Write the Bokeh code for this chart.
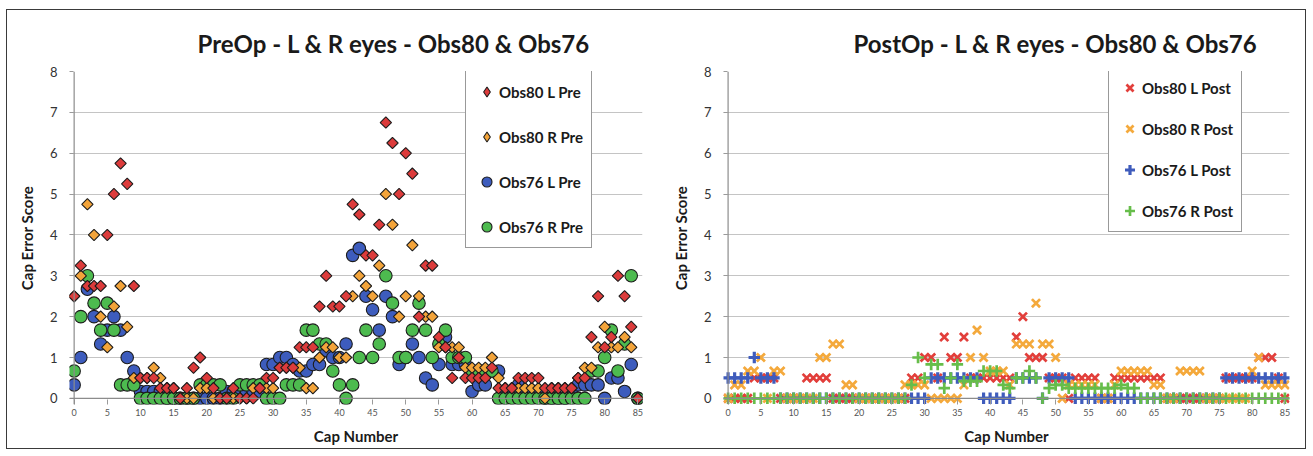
from bokeh.plotting import figure
from bokeh.layouts import row
from bokeh.models import Range1d, FixedTicker, Span, Legend, LegendItem
from bokeh.embed import file_html
from bokeh.resources import INLINE
import math

caps = list(range(86))
x_ticks = [0, 5, 10, 15, 20, 25, 30, 35, 40, 45, 50, 55, 60, 65, 70, 75, 80, 85]
y_ticks = [0, 1, 2, 3, 4, 5, 6, 7, 8]

titles = ["PreOp - L & R eyes - Obs80 & Obs76", "PostOp - L & R eyes - Obs80 & Obs76"]
x_label = "Cap Number"
y_label = "Cap Error Score"
pre_labels = ["Obs80 L Pre", "Obs80 R Pre", "Obs76 L Pre", "Obs76 R Pre"]
post_labels = ["Obs80 L Post", "Obs80 R Post", "Obs76 L Post", "Obs76 R Post"]

obs80_L_pre = [
    2.5, 3.25, 2.75, 2.75, 2.75, 4.0, 5.0, 5.75, 5.25, 2.75,
    0.5, 0.5, 0.5, 0.25, 0.25, 0.25, 0, 0.25, 0.75, 1.0,
    0.5, 0.25, 0, 0, 0.25, 0, 0, 0, 0.25, 0.5,
    0.5, 0.75, 0.75, 0.75, 1.25, 1.25, 1.25, 2.25, 3.0, 2.25,
    2.25, 2.5, 4.75, 4.5, 3.5, 3.5, 4.25, 6.75, 6.25, 5.0,
    6.0, 5.5, 2.0, 3.25, 3.25, 1.5, 1.25, 0.5, 1.0, 0.5,
    0.5, 0.5, 0.5, 0.75, 0.25, 0.25, 0.25, 0.5, 0.5, 0.5,
    0.5, 0.25, 0.25, 0.25, 0.25, 0.25, 0.5, 0.5, 1.5, 2.5,
    1.25, 1.5, 3.0, 2.5, 1.75, 0]
obs80_R_pre = [
    2.5, 3.0, 4.75, 4.0, 2.0, 1.25, 2.25, 2.75, 1.75, 0.5,
    0.5, 0.5, 0.75, 0.5, 0.25, 0.25, 0, 0, 0, 0.25,
    0.25, 0, 0, 0, 0, 0, 0, 0.25, 0.25, 0.25,
    0.25, 0.75, 0.75, 0.75, 0.75, 0.25, 0.25, 1.0, 1.25, 1.25,
    1.0, 1.0, 2.5, 3.0, 2.75, 2.5, 3.25, 5.0, 4.25, 2.0,
    2.5, 3.75, 2.5, 2.0, 2.0, 1.25, 1.25, 1.25, 1.25, 0.75,
    0.75, 0.75, 0.75, 1.0, 0.5, 0.25, 0.25, 0.25, 0.25, 0.25,
    0.25, 0, 0.25, 0.25, 0.25, 0.25, 0.5, 0.75, 0.75, 1.25,
    1.75, 1.25, 1.25, 1.5, 1.25, 0]
obs76_L_pre = [
    0.33, 1.0, 2.67, 2.0, 1.33, 1.67, 2.0, 1.67, 1.0, 0.67,
    0.17, 0.17, 0.17, 0.17, 0, 0, 0, 0, 0, 0,
    0, 0, 0, 0.17, 0.17, 0.17, 0.17, 0.17, 0.17, 0.83,
    0.83, 1.0, 1.0, 0.83, 0.67, 0.67, 0.83, 0.83, 1.17, 1.0,
    1.0, 1.33, 3.5, 3.67, 2.5, 2.17, 1.67, 2.5, 2.0, 0.83,
    1.0, 1.33, 1.0, 0.5, 0.33, 0.83, 1.5, 0.83, 0.83, 0.83,
    0.17, 0.33, 0.33, 0.67, 0.67, 0.17, 0.17, 0.33, 0.17, 0.17,
    0.17, 0, 0, 0, 0, 0.17, 0.33, 0.33, 0.33, 0.33,
    0, 0.5, 0.5, 0.17, 0.83, 0]
obs76_R_pre = [
    0.67, 2.0, 3.0, 2.33, 1.67, 2.33, 1.67, 0.33, 0.33, 0.33,
    0, 0, 0, 0, 0, 0, 0, 0, 0, 0.33,
    0.33, 0.33, 0.33, 0, 0, 0.33, 0.33, 0.33, 0.33, 0,
    0, 0, 0.33, 0.33, 0.33, 1.67, 1.67, 1.33, 1.33, 0.67,
    0.33, 0, 0.33, 1.0, 1.67, 1.0, 1.33, 3.0, 2.33, 1.0,
    1.0, 1.67, 2.33, 1.67, 1.0, 1.33, 1.67, 1.0, 1.0, 1.0,
    0.67, 0.67, 0.67, 0.67, 0, 0, 0, 0, 0, 0,
    0, 0, 0, 0, 0, 0, 0, 0, 0.67, 0.67,
    1.0, 1.67, 0.67, 1.33, 3.0, 0]

obs80_L_post = [
    0, 0, 0, 0, 0.5, 0.5, 0.5, 0.5, 0, 0,
    0, 0, 0.5, 0.5, 0.5, 0.5, 0, 0, 0, 0,
    0, 0, 0, 0, 0, 0, 0, 0, 0.5, 0.5,
    1.0, 1.0, 0.5, 1.5, 1.0, 1.0, 1.5, 0.5, 0.5, 0.5,
    0.5, 0.5, 0.5, 0.5, 1.5, 2.0, 1.0, 1.0, 1.0, 0.5,
    0.5, 0.5, 0, 0.5, 0.5, 0.5, 0.5, 0, 0, 0.5,
    0.5, 0.5, 0.5, 0.5, 0.5, 0.5, 0.5, 0, 0, 0,
    0, 0, 0, 0, 0, 0, 0.5, 0.5, 0.5, 0.5,
    0.5, 1.0, 1.0, 1.0, 0.5, 0]
obs80_R_post = [
    0, 0.33, 0.33, 0.67, 0.67, 1.0, 0, 0.67, 0.67, 0,
    0, 0, 0, 0, 1.0, 1.0, 1.33, 1.33, 0.33, 0.33,
    0, 0, 0, 0, 0, 0, 0, 0.33, 0.33, 0.33,
    0.33, 0, 0, 0, 0, 0, 0.33, 1.0, 1.67, 1.0,
    0.67, 0.67, 0.67, 0.33, 1.33, 1.33, 1.33, 2.33, 1.33, 1.33,
    1.0, 0, 0.33, 0.33, 0.33, 0.33, 0.33, 0, 0, 0.33,
    0.67, 0.67, 0.67, 0.67, 0.67, 0.33, 0.33, 0, 0, 0.67,
    0.67, 0.67, 0.67, 0, 0, 0, 0, 0, 0, 0,
    0.67, 1.0, 0.33, 0.33, 0.33, 0.33]
obs76_L_post = [
    0.5, 0.5, 0.5, 0.5, 1.0, 0.5, 0.5, 0.5, 0, 0,
    0, 0, 0, 0, 0, 0, 0, 0, 0, 0,
    0, 0, 0, 0, 0, 0, 0, 0, 0, 0,
    0, 0.5, 0.5, 0.5, 0.5, 0.5, 0.5, 0.5, 0.5, 0,
    0, 0, 0, 0, 0.5, 0.5, 0.5, 0.5, 0, 0.5,
    0.5, 0.5, 0.5, 0, 0, 0, 0, 0, 0, 0,
    0, 0, 0, 0, 0, 0, 0, 0, 0, 0,
    0, 0, 0, 0, 0, 0, 0.5, 0.5, 0.5, 0.5,
    0.5, 0.5, 0.5, 0.5, 0.5, 0.5]
obs76_R_post = [
    0, 0, 0, 0, 0, 0, 0, 0, 0, 0,
    0, 0, 0, 0, 0, 0, 0, 0, 0, 0,
    0, 0, 0, 0, 0, 0, 0, 0, 0.33, 1.0,
    0.5, 0.83, 0.83, 0.25, 0.5, 0.83, 0.42, 0.42, 0.42, 0.67,
    0.67, 0.67, 0.33, 0.25, 0.5, 0.5, 0.67, 0.5, 0, 0.25,
    0.33, 0.33, 0.25, 0.25, 0.25, 0.25, 0.25, 0.25, 0.25, 0.25,
    0.33, 0.25, 0.25, 0, 0, 0, 0, 0, 0, 0,
    0, 0, 0, 0, 0, 0, 0, 0, 0, 0,
    0, 0, 0, 0, 0, 0]

FONT = "Lato"
TXT = "#1a1a1a"
NAN = float("nan")


def base_fig(title, width, left_border, title_offset):
    p = figure(width=width, height=438,
               x_range=Range1d(-0.7, 85.7), y_range=Range1d(-0.15, 8),
               output_backend="svg", toolbar_location=None,
               min_border_left=left_border, min_border_right=16,
               min_border_top=61, min_border_bottom=44)
    p.title.text = title
    p.title.align = "left"
    p.title.offset = title_offset
    p.title.text_font = FONT
    p.title.text_font_size = "24px"
    p.title.text_font_style = "bold"
    p.title.text_color = TXT
    p.title.standoff = 28
    p.outline_line_color = None
    p.background_fill_color = "white"
    p.border_fill_color = "white"

    p.xaxis.ticker = FixedTicker(ticks=x_ticks)
    p.yaxis.ticker = FixedTicker(ticks=y_ticks)
    p.xgrid.visible = False
    p.ygrid.ticker = FixedTicker(ticks=y_ticks[1:])
    p.ygrid.grid_line_color = "#c4c4c4"
    p.ygrid.grid_line_width = 1.2

    p.xaxis.axis_line_color = None
    p.yaxis.axis_line_color = None
    p.xaxis.major_tick_in = 5
    p.xaxis.major_tick_out = 0
    p.yaxis.major_tick_in = 4
    p.yaxis.major_tick_out = 0
    p.xaxis.major_tick_line_color = "#9a9a9a"
    p.yaxis.major_tick_line_color = "#9a9a9a"
    p.xaxis.minor_tick_line_color = None
    p.yaxis.minor_tick_line_color = None

    p.xaxis.major_label_text_font = FONT
    p.xaxis.major_label_text_font_size = "9px"
    p.xaxis.major_label_text_color = "#555555"
    p.xaxis.major_label_standoff = 4
    p.yaxis.major_label_text_font = FONT
    p.yaxis.major_label_text_font_size = "13px"
    p.yaxis.major_label_text_color = "#333333"
    p.yaxis.major_label_standoff = 12

    p.xaxis.axis_label = x_label
    p.yaxis.axis_label = y_label
    for ax in (p.xaxis, p.yaxis):
        ax.axis_label_text_font = FONT
        ax.axis_label_text_font_style = "bold"
        ax.axis_label_text_font_size = "15px"
        ax.axis_label_text_color = TXT
    p.xaxis.axis_label_standoff = 8
    p.yaxis.axis_label_standoff = 11

    p.add_layout(Span(location=0, dimension="height", line_color="#8c8c8c", line_width=1.2))
    p.add_layout(Span(location=0, dimension="width", line_color="#8c8c8c", line_width=1.2))
    return p


def style_legend(items, loc, spacing):
    lg = Legend(items=items, location=loc)
    lg.border_line_color = "#333333"
    lg.border_line_width = 1.2
    lg.background_fill_color = "white"
    lg.background_fill_alpha = 1.0
    lg.label_text_font = FONT
    lg.label_text_font_style = "bold"
    lg.label_text_font_size = "15px"
    lg.label_text_color = TXT
    lg.glyph_width = 25
    lg.glyph_height = 25
    lg.label_height = 25
    lg.spacing = spacing
    lg.padding = 8
    lg.label_standoff = 0
    lg.margin = 0
    return lg


edge = dict(line_color="#1c1c1c", line_width=1.1)
RED, ORANGE, BLUE, GREEN = "#dc3b3b", "#f3a43a", "#3d5cbd", "#4dbb4f"

# ---- PreOp ----
p1 = base_fig(titles[0], 651, 62, 128)
r_bl = p1.scatter(caps, obs76_L_pre, marker="circle", size=12.5, fill_color=BLUE, **edge)
r_gr = p1.scatter(caps, obs76_R_pre, marker="circle", size=12.5, fill_color=GREEN, **edge)
r_or = p1.scatter(caps, obs80_R_pre, marker="square", size=8, angle=math.pi / 4,
                  fill_color=ORANGE, **edge)
r_rd = p1.scatter(caps, obs80_L_pre, marker="square", size=8, angle=math.pi / 4,
                  fill_color=RED, **edge)
# legend key proxies (a single NaN point, never drawn in the plot) so the key shows diamonds
k_rd = p1.scatter([NAN], [NAN], marker="diamond", size=12, fill_color=RED, **edge)
k_or = p1.scatter([NAN], [NAN], marker="diamond", size=12, fill_color=ORANGE, **edge)
lg1 = style_legend([LegendItem(label=pre_labels[0], renderers=[k_rd]),
                    LegendItem(label=pre_labels[1], renderers=[k_or]),
                    LegendItem(label=pre_labels[2], renderers=[r_bl]),
                    LegendItem(label=pre_labels[3], renderers=[r_gr])],
                   (396, 156), 20)
p1.add_layout(lg1)

# ---- PostOp ----
p2 = base_fig(titles[1], 647, 65, 130)
q_rd = p2.scatter(caps, obs80_L_post, marker="x", size=11.5, line_color="#e23f3b", line_width=2.7)
q_or = p2.scatter(caps, obs80_R_post, marker="x", size=11.5, line_color="#f4a93c", line_width=2.7)
q_bl = p2.scatter(caps, obs76_L_post, marker="cross", size=11.5, line_color="#3f5cbc", line_width=3.2)
q_gr = p2.scatter(caps, obs76_R_post, marker="cross", size=11.5, line_color="#66bd4a", line_width=2.7)
lg2 = style_legend([LegendItem(label=post_labels[0], renderers=[q_rd]),
                    LegendItem(label=post_labels[1], renderers=[q_or]),
                    LegendItem(label=post_labels[2], renderers=[q_bl]),
                    LegendItem(label=post_labels[3], renderers=[q_gr])],
                   (385, 172), 16)
p2.add_layout(lg2)

layout = row(p1, p2, styles={"border": "1px solid #3a3a3a",
                             "margin-left": "6px", "margin-top": "9px"})
open("out.html", "w").write(file_html(layout, INLINE))
